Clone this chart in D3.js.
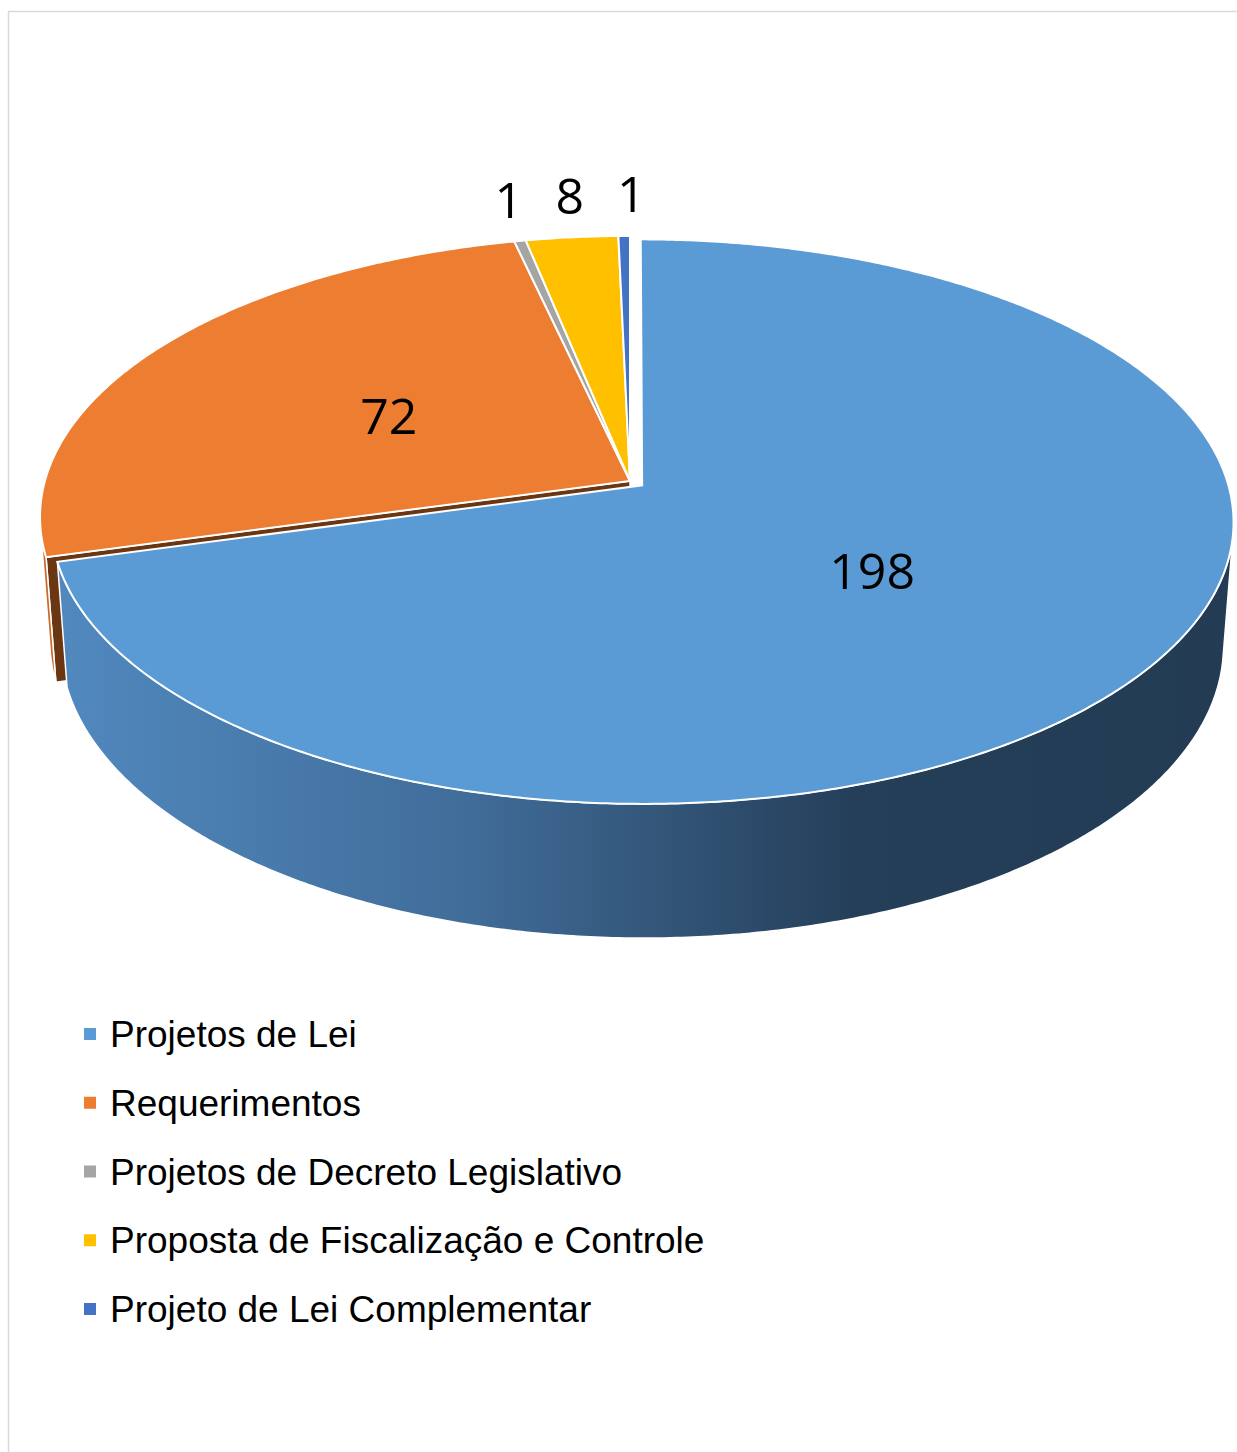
<!DOCTYPE html>
<html>
<head>
<meta charset="utf-8">
<script src="https://cdn.jsdelivr.net/npm/d3@7"></script>
<style>
  body { margin: 0; background: #fff; }
  svg { display: block; }
</style>
</head>
<body>
<div id="chart"></div>
<script>
const categories = ["Projetos de Lei", "Requerimentos", "Projetos de Decreto Legislativo",
                    "Proposta de Fiscalização e Controle", "Projeto de Lei Complementar"];
const values = [198, 72, 1, 8, 1];
const colors = ["#5B9BD5", "#ED7D31", "#A5A5A5", "#FFC000", "#4472C4"];
const sideColors = ["url(#blueSide)", "#c9692a", "#8c8c8c", "#d9a300", "#3a61a7"];
const faceColors = ["#2f5172", "#6b3612", "#555555", "#7f6000", "#22395f"];
const explode = [0.026, 0, 0, 0, 0];

const W = 1237, H = 1452;
const svg = d3.select("#chart").append("svg")
    .attr("width", W)
    .attr("height", H);

// moldura
svg.append("rect")
    .attr("x", 8.5).attr("y", 11.5)
    .attr("width", W + 10).attr("height", H + 10)
    .style("fill", "none").style("stroke", "#d9d9d9").style("stroke-width", 1.5);

const defs = svg.append("defs");
const grad = defs.append("linearGradient")
    .attr("id", "blueSide")
    .attr("gradientUnits", "userSpaceOnUse")
    .attr("x1", 50).attr("x2", 1230).attr("y1", 0).attr("y2", 0);
grad.append("stop").attr("offset", "0").attr("stop-color", "#5189bf");
grad.append("stop").attr("offset", "0.35").attr("stop-color", "#416d9a");
grad.append("stop").attr("offset", "0.68").attr("stop-color", "#253f59");
grad.append("stop").attr("offset", "1").attr("stop-color", "#233c54");

// projeção em perspectiva
const cx = 630, cy = 481;
const alpha = 28.2 * Math.PI / 180, cs = Math.cos(alpha), sn = Math.sin(alpha);
const L = 6.874, f = 4022, thick = 0.241;

function proj(x, y, z) {
    const D = y * cs + L - z * sn;
    return [cx + f * x / D, cy - f * (y * sn + z * cs) / D];
}
function pt(r, a, z, e, m) {
    return proj(r * Math.sin(a) + e * Math.sin(m), r * Math.cos(a) + e * Math.cos(m), z);
}

const pie = d3.pie().sort(null).value(d => d);
const arcs = pie(values);
const line = d3.line();
const step = Math.PI / 360;

function range(a0, a1) {
    const n = Math.max(2, Math.ceil((a1 - a0) / step));
    return d3.range(n + 1).map(i => a0 + (a1 - a0) * i / n);
}

function topPath(d, i) {
    const m = (d.startAngle + d.endAngle) / 2, e = explode[i];
    const pts = [pt(0, 0, 0, e, m)].concat(range(d.startAngle, d.endAngle).map(a => pt(1, a, 0, e, m)));
    return line(pts) + "Z";
}
function sidePath(d, i) {
    const m = (d.startAngle + d.endAngle) / 2, e = explode[i];
    const vis = range(d.startAngle, d.endAngle).filter(a => {
        const x = Math.sin(a) + e * Math.sin(m), y = Math.cos(a) + e * Math.cos(m);
        return -Math.sin(a) * x - Math.cos(a) * (L * cs + y) > 0;
    });
    if (vis.length < 2) return null;
    const top = vis.map(a => pt(1, a, 0, e, m));
    const bot = vis.slice().reverse().map(a => pt(1, a, -thick, e, m));
    return line(top.concat(bot)) + "Z";
}
function facePath(d, i, a) {
    const m = (d.startAngle + d.endAngle) / 2, e = explode[i];
    return line([pt(0, 0, 0, e, m), pt(1, a, 0, e, m), pt(1, a, -thick, e, m), pt(0, 0, -thick, e, m)]) + "Z";
}

const g = svg.append("g");
const back = [1, 2, 3, 4];

// faces laterais e radiais das fatias de trás
back.forEach(i => {
    const d = arcs[i];
    if (explode[i - 1] > 0) {
        g.append("path").attr("d", facePath(d, i, d.startAngle))
            .style("fill", faceColors[i]).style("stroke", "#fff").style("stroke-width", 1.5);
    }
    const sp = sidePath(d, i);
    if (sp) {
        g.append("path").attr("d", sp)
            .style("fill", sideColors[i]).style("stroke", "#fff").style("stroke-width", 1.5);
    }
});
back.forEach(i => {
    g.append("path").attr("d", topPath(arcs[i], i))
        .style("fill", colors[i]).style("stroke", "#fff").style("stroke-width", 2);
});

// fatia destacada (Projetos de Lei)
const sp0 = sidePath(arcs[0], 0);
if (sp0) {
    g.append("path").attr("d", sp0)
        .style("fill", sideColors[0]).style("stroke", "#fff").style("stroke-width", 1.5);
}
g.append("path").attr("d", topPath(arcs[0], 0))
    .style("fill", colors[0]).style("stroke", "#fff").style("stroke-width", 2);

// rótulos de dados
arcs.forEach((d, i) => {
    const m = (d.startAngle + d.endAngle) / 2;
    const big = (d.endAngle - d.startAngle) > 0.3;
    const r = big ? (i === 0 ? 0.47 : 0.5) : 1.2;
    const p = pt(r, m, 0, explode[i], m);
    svg.append("text")
        .attr("x", p[0] + (big ? 2 : 8))
        .attr("y", p[1] + (big ? 3 : 0))
        .attr("text-anchor", "middle")
        .attr("dominant-baseline", "central")
        .style("font-family", "'Open Sans', 'Noto Sans', sans-serif")
        .style("font-size", "50px")
        .style("fill", "#000")
        .text(values[i]);
});

// legenda
const ly = d3.scaleLinear().domain([0, 4]).range([1034, 1309]);
const legend = svg.append("g");
categories.forEach((c, i) => {
    legend.append("rect")
        .attr("x", 84).attr("y", ly(i) - 6)
        .attr("width", 12).attr("height", 12)
        .style("fill", colors[i]);
    legend.append("text")
        .attr("x", 110).attr("y", ly(i) + 13)
        .style("font-family", "'Liberation Sans', Arial, sans-serif")
        .style("font-size", "37px")
        .style("fill", "#000")
        .text(c);
});
</script>
</body>
</html>
